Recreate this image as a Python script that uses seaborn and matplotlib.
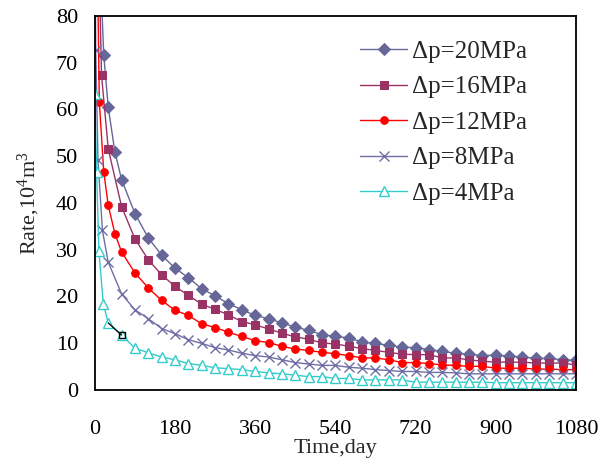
import matplotlib
matplotlib.use("Agg")
import matplotlib.pyplot as plt
import seaborn as sns
import numpy as np

# ---- data ----
labels = ["Δp=20MPa", "Δp=16MPa", "Δp=12MPa", "Δp=8MPa", "Δp=4MPa"]

t20 = [10, 20, 30, 45, 60, 90, 120, 150, 180, 210, 240, 270, 300, 330, 360, 390, 420, 450,
       480, 510, 540, 570, 600, 630, 660, 690, 720, 750, 780, 810, 840, 870, 900, 930, 960,
       990, 1020, 1050, 1080]
v20 = [95, 71.6, 60.5, 50.9, 45.0, 37.7, 32.5, 28.8, 26.0, 24.0, 21.6, 20.1, 18.4, 17.1, 15.9,
       15.2, 14.3, 13.4, 12.7, 11.8, 11.4, 11.1, 10.2, 9.9, 9.5, 9.1, 9.0, 8.6, 8.2, 7.8, 7.6,
       7.3, 7.4, 7.2, 7.0, 6.7, 6.7, 6.4, 6.3]

t16 = [5, 15, 30, 60, 90, 120, 150, 180, 210, 240, 270, 300, 330, 360, 390, 420, 450, 480,
       510, 540, 570, 600, 630, 660, 690, 720, 750, 780, 810, 840, 870, 900, 930, 960, 990,
       1020, 1050, 1080]
v16 = [110, 67.3, 51.6, 39.2, 32.3, 27.8, 24.6, 22.1, 20.2, 18.3, 17.2, 16.0, 14.6, 13.9, 13.0,
       12.1, 11.3, 10.8, 10.0, 9.8, 9.3, 8.8, 8.4, 8.0, 7.6, 7.5, 7.5, 6.8, 6.8, 6.4, 6.1, 5.9,
       5.9, 5.9, 5.7, 5.7, 5.7, 5.3]

t12 = [3, 10, 20, 30, 45, 60, 90, 120, 150, 180, 210, 240, 270, 300, 330, 360, 390, 420, 450,
       480, 510, 540, 570, 600, 630, 660, 690, 720, 750, 780, 810, 840, 870, 900, 930, 960,
       990, 1020, 1050, 1080]
v12 = [110, 61.6, 46.6, 39.5, 33.4, 29.5, 25.0, 21.8, 19.1, 17.0, 15.9, 14.1, 13.3, 12.3, 11.4,
       10.5, 10.1, 9.3, 8.7, 8.4, 8.0, 7.7, 7.3, 6.8, 6.8, 6.4, 5.8, 5.8, 5.6, 5.3, 5.2, 5.0,
       5.0, 4.6, 4.6, 4.6, 4.4, 4.4, 4.3, 4.3]

t8 = [0, 2, 7, 17, 30, 60, 90, 120, 150, 180, 210, 240, 270, 300, 330, 360, 390, 420, 450, 480,
      510, 540, 570, 600, 630, 660, 690, 720, 750, 780, 810, 840, 870, 900, 930, 960, 990,
      1020, 1050, 1080]
v8 = [100, 72.7, 49.2, 34.1, 27.3, 20.5, 17.1, 15.2, 13.1, 12.0, 10.7, 9.9, 9.0, 8.5, 7.8, 7.3,
      7.0, 6.4, 5.8, 5.5, 5.2, 5.2, 4.8, 4.6, 4.3, 4.1, 3.9, 3.9, 3.7, 3.7, 3.6, 3.4, 3.4, 3.4,
      3.4, 3.4, 3.4, 3.4, 3.4, 3.4]

t4 = [0, 4, 9, 19, 30, 60, 90, 120, 150, 180, 210, 240, 270, 300, 330, 360, 390, 420, 450, 480,
      510, 540, 570, 600, 630, 660, 690, 720, 750, 780, 810, 840, 870, 900, 930, 960, 990,
      1020, 1050, 1080]
v4 = [63.3, 46.6, 29.8, 18.3, 14.3, 11.7, 8.9, 7.9, 7.0, 6.4, 5.6, 5.2, 4.7, 4.5, 4.3, 3.9, 3.6,
      3.4, 3.1, 2.8, 2.8, 2.4, 2.4, 2.1, 2.1, 2.1, 2.1, 1.6, 1.6, 1.6, 1.6, 1.6, 1.6, 1.5, 1.5,
      1.5, 1.5, 1.5, 1.5, 1.5]

x_ticks = [0, 180, 360, 540, 720, 900, 1080]
y_ticks = [0, 10, 20, 30, 40, 50, 60, 70, 80]

# ---- style ----
sns.set_style("white")
plt.rcParams["font.family"] = ["Liberation Serif", "DejaVu Serif"]
plt.rcParams["mathtext.fontset"] = "custom"
plt.rcParams["mathtext.rm"] = "Liberation Serif"
plt.rcParams["mathtext.default"] = "regular"

fig = plt.figure(figsize=(6.12, 4.59), dpi=100)
ax = fig.add_axes([0.155, 0.151, 0.786, 0.814])

series = [
    (t20, v20, dict(color="#666699", marker="D", markersize=6, markerfacecolor="#666699",
                    markeredgecolor="#666699")),
    (t16, v16, dict(color="#993366", marker="s", markersize=6, markerfacecolor="#993366",
                    markeredgecolor="#993366")),
    (t12, v12, dict(color="#FF0000", marker="o", markersize=5.5, markerfacecolor="#FF0000",
                    markeredgecolor="#FF0000")),
    (t8, v8, dict(color="#6E6EA6", marker="x", markersize=6.5, markeredgewidth=1.0,
                  markeredgecolor="#6E6EA6")),
    (t4, v4, dict(color="#33CCCC", marker="^", markersize=6.5, markerfacecolor="white",
                  markeredgecolor="#33CCCC", markeredgewidth=1.0)),
]

for (t, v, kw), lab in zip(series, labels):
    sns.lineplot(x=t, y=v, ax=ax, label=lab, linewidth=1.0, sort=False,
                 estimator=None, **kw)

# highlighted (black) point on the 4 MPa curve
ax.plot(t4[4:6], v4[4:6], color="black", linewidth=0.9)
ax.plot(t4[5:6], v4[5:6], marker="s", markersize=4.5, markerfacecolor="none",
        markeredgecolor="black", linestyle="none")

ax.set_xlim(0, 1080)
ax.set_ylim(0, 80)
ax.set_xticks(x_ticks)
ax.set_yticks(y_ticks)
ax.set_xticklabels([str(x) for x in x_ticks])
ax.set_yticklabels([str(y) for y in y_ticks])
ax.tick_params(direction="in", length=6, width=1.2, labelsize=16, colors="black")
ax.tick_params(axis="x", pad=22)
ax.tick_params(axis="y", pad=12)
for s in ax.spines.values():
    s.set_visible(True)
    s.set_color("black")
    s.set_linewidth(1.3)

ax.set_xlabel("Time,day", fontsize=16, labelpad=0)
ax.set_ylabel("Rate,10$^{4}$m$^{3}$", fontsize=16, labelpad=10)

leg = ax.legend(frameon=False, loc="upper left", bbox_to_anchor=(0.52, 0.975),
                fontsize=18, handlelength=1.9, labelspacing=0.52, handletextpad=0.2,
                borderaxespad=0.2)

fig.savefig("out.png", dpi=100)
